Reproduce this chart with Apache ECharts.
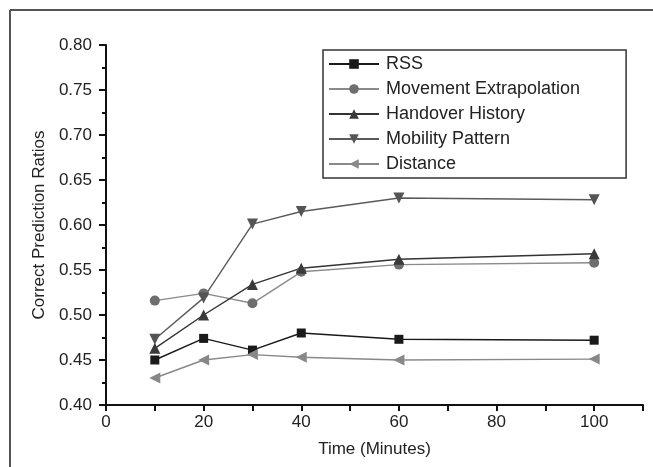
<!DOCTYPE html>
<html>
<head>
<meta charset="utf-8">
<script src="https://cdn.jsdelivr.net/npm/echarts@6/dist/echarts.min.js"></script>
<style>
  html, body { margin: 0; padding: 0; background: #fff; }
  #chart { width: 653px; height: 467px; }
</style>
</head>
<body>
<div id="chart"></div>
<script>
// minutes on the x axis
const times = [10, 20, 30, 40, 60, 100];

// correct prediction ratios per method
const rss = [0.450, 0.474, 0.461, 0.480, 0.473, 0.472];
const movementExtrapolation = [0.516, 0.524, 0.513, 0.548, 0.556, 0.558];
const handoverHistory = [0.463, 0.500, 0.534, 0.552, 0.562, 0.568];
const mobilityPattern = [0.473, 0.519, 0.601, 0.615, 0.630, 0.628];
const distance = [0.430, 0.450, 0.456, 0.453, 0.450, 0.451];

const seriesNames = ["RSS", "Movement Extrapolation", "Handover History", "Mobility Pattern", "Distance"];

const chart = echarts.init(document.getElementById("chart"));
const font = "Liberation Sans, Arial, sans-serif";

// pair x and y values for a value/value line
const toPoints = (values) => values.map((v, i) => [times[i], v]);

const makeSeries = (name, values, color, markerColor, symbol, size, rotate) => ({
    name: name,
    type: "line",
    data: toPoints(values),
    symbol: symbol,
    symbolSize: size,
    symbolRotate: rotate || 0,
    lineStyle: { color: color, width: 1.4 },
    itemStyle: { color: markerColor, borderWidth: 0 },
    emphasis: { disabled: true },
});

chart.setOption({
    animation: false,
    backgroundColor: "#fff",
    grid: { left: 106, right: 10, top: 45, bottom: 62 },
    legend: {
        orient: "vertical",
        left: 323,
        top: 50,
        padding: [5, 46, 5, 5],
        itemGap: 7,
        itemWidth: 50,
        itemHeight: 12,
        borderColor: "#333",
        borderWidth: 1.5,
        data: seriesNames,
        textStyle: { fontFamily: font, fontSize: 18, color: "#222", padding: [0, 0, 0, 2] },
    },
    xAxis: {
        type: "value",
        min: 0,
        max: 110,
        interval: 10,
        name: "Time (Minutes)",
        nameLocation: "middle",
        nameGap: 36,
        nameTextStyle: { fontFamily: font, fontSize: 17, color: "#222" },
        axisLine: { lineStyle: { color: "#111", width: 2 } },
        axisTick: { length: 6, lineStyle: { color: "#111", width: 2 } },
        axisLabel: {
            fontFamily: font,
            fontSize: 17,
            color: "#222",
            margin: 9,
            formatter: (v) => (v % 20 === 0 && v <= 100 ? String(v) : ""),
        },
        splitLine: { show: false },
    },
    yAxis: {
        type: "value",
        min: 0.4,
        max: 0.8,
        interval: 0.05,
        name: "Correct Prediction Ratios",
        nameLocation: "middle",
        nameGap: 56,
        nameTextStyle: { fontFamily: font, fontSize: 17, color: "#222" },
        axisLine: { show: true, lineStyle: { color: "#111", width: 2 } },
        axisTick: { show: true, length: 7, lineStyle: { color: "#111", width: 2 } },
        minorTick: { show: true, splitNumber: 2, length: 4, lineStyle: { color: "#111", width: 2 } },
        axisLabel: {
            fontFamily: font,
            fontSize: 17,
            color: "#222",
            margin: 14,
            formatter: (v) => v.toFixed(2),
        },
        splitLine: { show: false },
    },
    graphic: [
        // outer frame (top and left edges only)
        { type: "line", shape: { x1: 10, y1: 10, x2: 653, y2: 10 }, style: { stroke: "#555", lineWidth: 2 } },
        { type: "line", shape: { x1: 10, y1: 10, x2: 10, y2: 467 }, style: { stroke: "#555", lineWidth: 2 } },
    ],
    series: [
        makeSeries("RSS", rss, "#1a1a1a", "#1a1a1a", "rect", 9),
        makeSeries("Movement Extrapolation", movementExtrapolation, "#8a8a8a", "#6e6e6e", "circle", 10),
        makeSeries("Handover History", handoverHistory, "#333", "#3a3a3a", "triangle", 11),
        makeSeries("Mobility Pattern", mobilityPattern, "#5a5a5a", "#555", "triangle", 11, 180),
        makeSeries("Distance", distance, "#888", "#888", "triangle", 11, 90),
    ],
});
</script>
</body>
</html>
